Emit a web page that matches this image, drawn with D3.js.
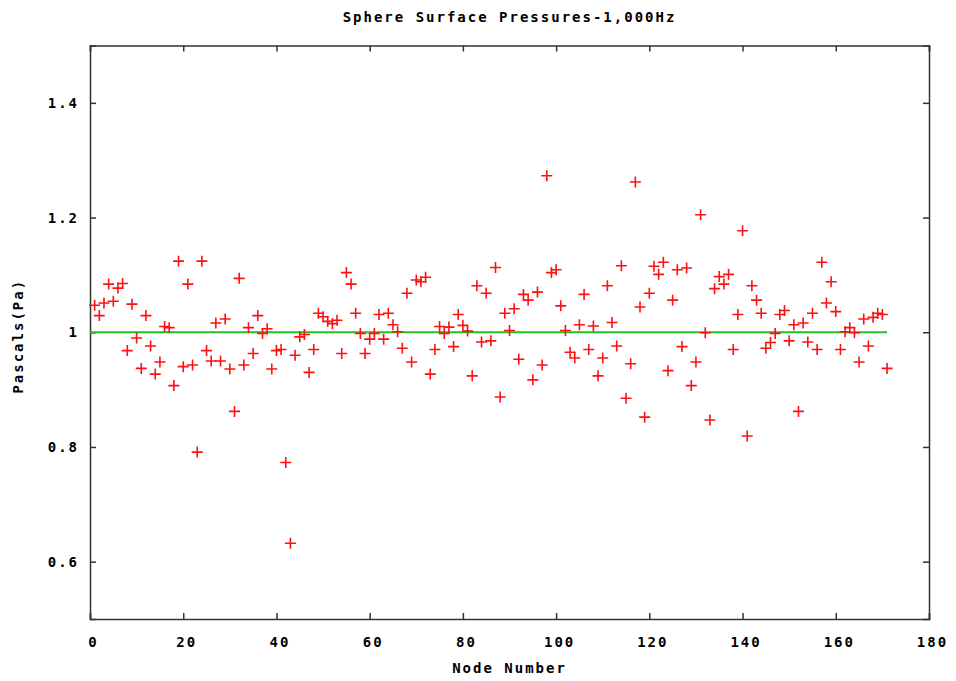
<!DOCTYPE html>
<html>
<head>
<meta charset="utf-8">
<script src="https://cdn.jsdelivr.net/npm/d3@7"></script>
<style>
    body { margin: 0; background: #fff; }
    svg text { font-family: "DejaVu Sans Mono", monospace; font-weight: bold; font-size: 14px; letter-spacing: 2px; fill: #000; }
</style>
</head>
<body>
<svg id="chart" width="956" height="681"></svg>
<script>
// pressure at each surface node, nodes numbered from 1
const pressures = [
    1.047, 1.029, 1.051, 1.084, 1.054, 1.077, 1.085, 0.968, 1.049, 0.990,
    0.937, 1.029, 0.976, 0.927, 0.948, 1.010, 1.008, 0.907, 1.124, 0.940,
    1.084, 0.943, 0.791, 1.124, 0.968, 0.950, 1.016, 0.950, 1.023, 0.936,
    0.862, 1.094, 0.943, 1.008, 0.963, 1.029, 0.998, 1.006, 0.936, 0.968,
    0.970, 0.773, 0.632, 0.960, 0.992, 0.996, 0.930, 0.970, 1.033, 1.027,
    1.019, 1.015, 1.021, 0.963, 1.104, 1.084, 1.033, 0.998, 0.963, 0.988,
    0.998, 1.031, 0.988, 1.033, 1.013, 1.001, 0.972, 1.068, 0.948, 1.091,
    1.088, 1.096, 0.927, 0.970, 1.010, 0.998, 1.009, 0.975, 1.031, 1.012,
    1.002, 0.924, 1.081, 0.983, 1.068, 0.985, 1.113, 0.887, 1.033, 1.003,
    1.041, 0.953, 1.066, 1.056, 0.917, 1.070, 0.943, 1.273, 1.104, 1.109,
    1.046, 1.003, 0.965, 0.955, 1.013, 1.066, 0.970, 1.011, 0.924, 0.955,
    1.081, 1.017, 0.976, 1.116, 0.885, 0.945, 1.262, 1.044, 0.852, 1.068,
    1.115, 1.101, 1.122, 0.933, 1.056, 1.109, 0.975, 1.112, 0.907, 0.948,
    1.205, 0.999, 0.847, 1.076, 1.097, 1.084, 1.101, 0.970, 1.031, 1.177,
    0.819, 1.081, 1.056, 1.033, 0.972, 0.982, 0.998, 1.031, 1.038, 0.985,
    1.013, 0.862, 1.016, 0.983, 1.033, 0.970, 1.122, 1.051, 1.088, 1.036,
    0.970, 1.001, 1.008, 0.999, 0.948, 1.023, 0.976, 1.026, 1.033, 1.031,
    0.937
];
const nodes = pressures.map((p, i) => i + 1);

// reference level (green line)
const refNodes = [0, 171];
const refValue = 1;

const xTicks = [0, 20, 40, 60, 80, 100, 120, 140, 160, 180];
const yTicks = [0.6, 0.8, 1, 1.2, 1.4];

const svg = d3.select("#chart");
const margin = { top: 45.5, right: 27, bottom: 62, left: 90 };
const width = 956, height = 681;

const x = d3.scaleLinear().domain([0, 180]).range([margin.left, width - margin.right]);
const y = d3.scaleLinear().domain([0.5, 1.5]).range([height - margin.bottom, margin.top]);

svg.append("rect").attr("width", width).attr("height", height).attr("fill", "#fff");

// axes with inward ticks, like gnuplot
const axisColor = "#333";

svg.append("g")
    .attr("transform", `translate(0,${y(0.5)})`)
    .call(d3.axisBottom(x).tickValues(xTicks).tickSize(-6).tickPadding(18).tickFormat(d3.format("d")))
    .call(g => g.selectAll("text").attr("dx", 3));

svg.append("g")
    .attr("transform", `translate(0,${y(1.5)})`)
    .call(d3.axisTop(x).tickValues(xTicks).tickSize(-6).tickFormat(""));

svg.append("g")
    .attr("transform", `translate(${x(0)},0)`)
    .call(d3.axisLeft(y).tickValues(yTicks).tickSize(-6).tickPadding(11).tickFormat(d3.format("")));

svg.append("g")
    .attr("transform", `translate(${x(180)},0)`)
    .call(d3.axisRight(y).tickValues(yTicks).tickSize(-6).tickFormat(""));

svg.selectAll(".domain, .tick line")
    .attr("stroke", axisColor)
    .attr("stroke-width", 1.5);
svg.selectAll(".tick text").attr("fill", "#000");

// reference line at 1 Pa
svg.append("path")
    .attr("d", d3.line().x(d => x(d)).y(() => y(refValue))(refNodes))
    .attr("stroke", "#22c022")
    .attr("stroke-width", 1.8)
    .attr("fill", "none");

// point markers
const half = 5.5;
svg.append("g")
    .selectAll("path")
    .data(pressures)
    .join("path")
    .attr("d", (d, i) => {
        const px = x(nodes[i]), py = y(d);
        return `M${px - half},${py}H${px + half}M${px},${py - half}V${py + half}`;
    })
    .attr("stroke", "#ff1010")
    .attr("stroke-width", 1.6)
    .attr("fill", "none");

svg.append("text")
    .attr("x", (x(0) + x(180)) / 2)
    .attr("y", 22)
    .attr("text-anchor", "middle")
    .text("Sphere Surface Pressures-1,000Hz");

svg.append("text")
    .attr("x", (x(0) + x(180)) / 2)
    .attr("y", 673)
    .attr("text-anchor", "middle")
    .text("Node Number");

svg.append("text")
    .attr("transform", `translate(23,${y(1) + 4}) rotate(-90)`)
    .attr("text-anchor", "middle")
    .text("Pascals(Pa)");
</script>
</body>
</html>
